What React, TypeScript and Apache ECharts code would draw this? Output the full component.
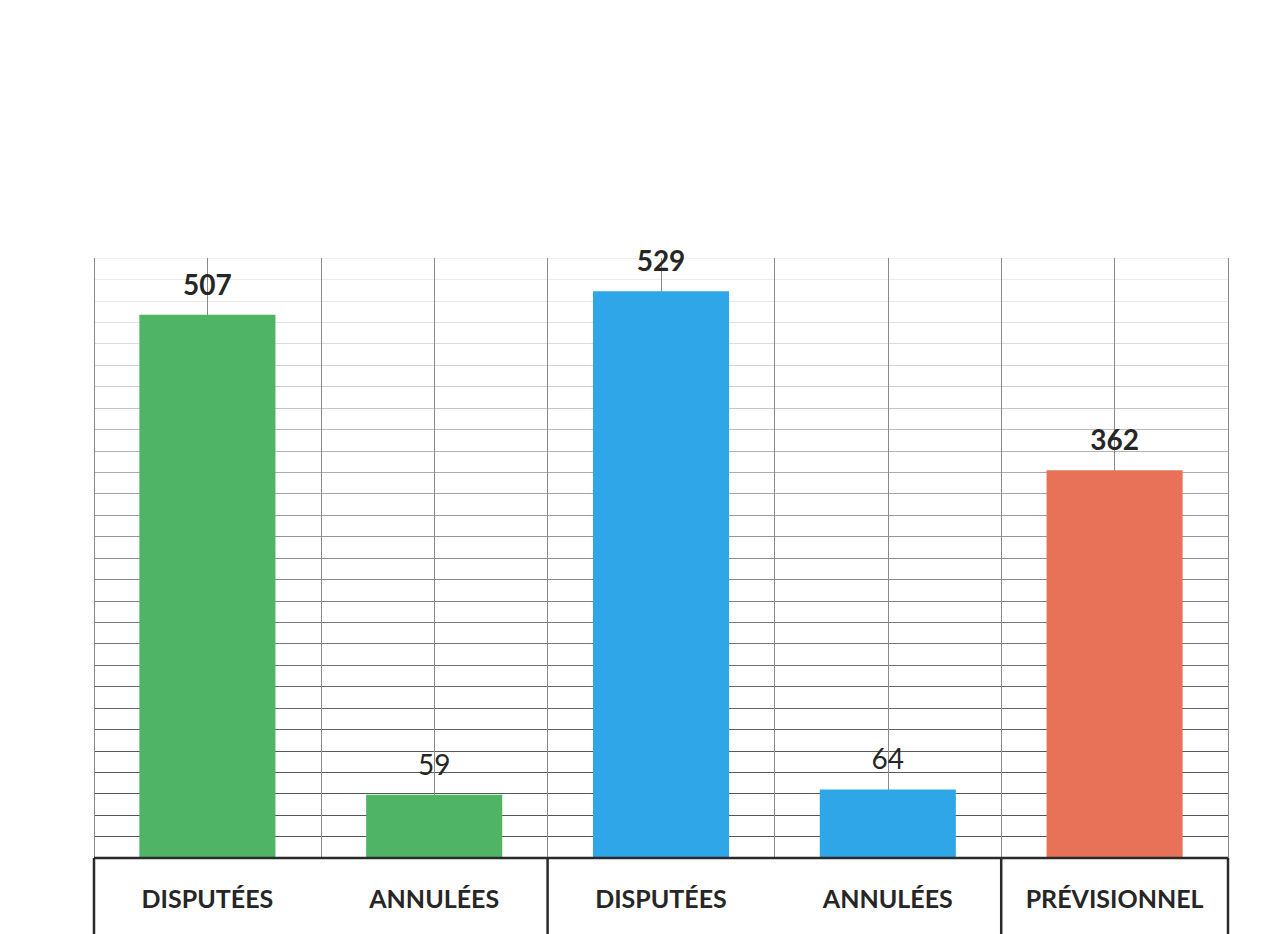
import React, { useEffect, useRef } from "react";
import * as echarts from "echarts";

const categories = ["DISPUTÉES", "ANNULÉES", "DISPUTÉES", "ANNULÉES", "PRÉVISIONNEL"];
const values = [507, 59, 529, 64, 362];
const barColors = ["#50b466", "#50b466", "#2ea6e8", "#2ea6e8", "#e87258"];
const boldLabel = [true, false, true, false, true];
const groupSizes = [2, 2, 1];
const yMax = 560;
const yStep = 20;

const GRID_LEFT = 94;
const GRID_RIGHT = 44;
const GRID_TOP = 258;
const GRID_BOTTOM = 76;
const W = 1272;
const H = 934;

// horizontal grid line colours, from bottom to top (the scan fades upward)
const hLineColors = [
  "#333", "#555", "#555", "#555", "#5a5a5a", "#5a5a5a", "#606060", "#666", "#6a6a6a", "#707070",
  "#777", "#7a7a7a", "#808080", "#888", "#8e8e8e", "#959595", "#9c9c9c", "#a4a4a4", "#acacac", "#b4b4b4",
  "#bcbcbc", "#c4c4c4", "#cccccc", "#d4d4d4", "#dcdcdc", "#e2e2e2", "#e8e8e8", "#ececec", "#f0f0f0",
];

export default function App() {
  const ref = useRef<HTMLDivElement>(null);
  useEffect(() => {
    if (!ref.current) return;
    const chart = echarts.init(ref.current, null, { renderer: "svg" });
    const plotW = W - GRID_LEFT - GRID_RIGHT;
    const catW = plotW / categories.length;
    const baseY = H - GRID_BOTTOM;

    const graphics: any[] = [];
    graphics.push({
      type: "line",
      shape: { x1: GRID_LEFT, y1: baseY, x2: W - GRID_RIGHT, y2: baseY },
      style: { stroke: "#2a2a2a", lineWidth: 2.5 },
      z: 100,
    });
    let acc = 0;
    const dividers = [0];
    groupSizes.forEach((g) => {
      acc += g;
      dividers.push(acc);
    });
    dividers.forEach((d) => {
      const x = GRID_LEFT + d * catW;
      graphics.push({
        type: "line",
        shape: { x1: x, y1: baseY, x2: x, y2: H + 4 },
        style: { stroke: "#2a2a2a", lineWidth: 2.5 },
        z: 100,
      });
    });

    chart.setOption({
      animation: false,
      backgroundColor: "#ffffff",
      grid: { left: GRID_LEFT, right: GRID_RIGHT, top: GRID_TOP, bottom: GRID_BOTTOM },
      xAxis: [
        {
          type: "category",
          data: categories,
          axisLine: { show: false },
          axisTick: { show: false },
          splitLine: { show: false },
          axisLabel: {
            interval: 0,
            margin: 27,
            fontFamily: "Lato, 'Open Sans', sans-serif",
            fontWeight: "bold",
            fontSize: 25,
            color: "#262626",
          },
        },
        {
          type: "value",
          min: 0,
          max: categories.length * 2,
          interval: 1,
          position: "bottom",
          axisLine: { show: false },
          axisTick: { show: false },
          axisLabel: { show: false },
          splitLine: { show: true, lineStyle: { color: "#8a8a8a", width: 1 } },
        },
      ],
      yAxis: {
        type: "value",
        min: 0,
        max: yMax,
        interval: yStep,
        axisLine: { show: false },
        axisTick: { show: false },
        axisLabel: { show: false },
        splitLine: { show: true, lineStyle: { color: hLineColors, width: 1 } },
      },
      series: [
        {
          type: "bar",
          xAxisIndex: 0,
          barWidth: "60%",
          data: values.map((v, i) => ({
            value: v,
            itemStyle: { color: barColors[i] },
            label: { fontWeight: boldLabel[i] ? "bold" : "normal" },
          })),
          label: {
            show: true,
            position: "top",
            distance: 17,
            fontFamily: "Lato, 'Open Sans', sans-serif",
            fontSize: 28,
            color: "#262626",
          },
        },
      ],
      graphic: graphics,
    });
    return () => chart.dispose();
  }, []);
  return (
    <div
      ref={ref}
      style={{ position: "fixed", left: 0, top: 0, width: W, height: H }}
    />
  );
}
